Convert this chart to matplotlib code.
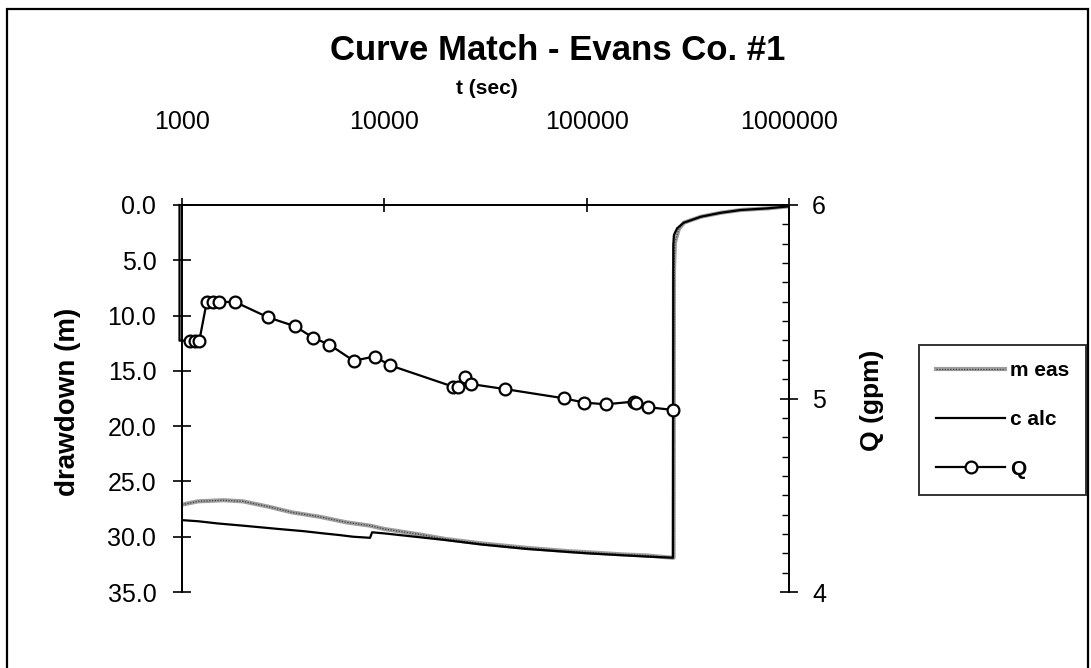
"""
Curve Match - Evans Co. #1
drawdown (meas / calc) e vazão Q contra t (log), estilo planilha antiga.
"""

import matplotlib
matplotlib.use("Agg")
import matplotlib.pyplot as plt
from matplotlib import font_manager
from matplotlib.lines import Line2D
from matplotlib.patches import Rectangle
from matplotlib.ticker import FixedLocator, MultipleLocator, FuncFormatter

# ---- dados ------------------------------------------------------------------
meas_t = [1000, 1200, 1600, 2000, 2700, 3500, 4800, 6500, 8500, 10000, 15000,
          20000, 30000, 50000, 80000, 100000, 150000, 200000, 265000, 269000,
          270000, 273000, 285000, 302000, 367000, 461000, 579000, 788000, 1000000]
meas_d = [27.1, 26.8, 26.7, 26.8, 27.3, 27.8, 28.2, 28.7, 29.0, 29.3, 29.8,
          30.2, 30.6, 31.0, 31.3, 31.4, 31.6, 31.7, 31.9, 31.9,
          6.0, 3.4, 2.2, 1.6, 1.06, 0.7, 0.45, 0.3, 0.12]

calc_t = [1000, 1200, 1500, 2000, 3000, 4000, 5000, 6000, 7000, 8500, 8700,
          10000, 20000, 30000, 50000, 100000, 200000, 267000, 268000, 270000,
          280000, 302000, 367000, 461000, 579000, 788000, 1000000]
calc_d = [28.5, 28.6, 28.8, 29.0, 29.3, 29.5, 29.7, 29.85, 30.0, 30.1, 29.6,
          29.7, 30.3, 30.7, 31.1, 31.5, 31.8, 31.9, 3.6, 2.7,
          2.1, 1.6, 1.06, 0.7, 0.45, 0.3, 0.12]

# os dois primeiros pontos de Q não têm marcador (trecho vertical inicial)
q_t = [972, 972, 1095, 1160, 1218, 1325, 1429, 1530, 1829, 2654, 3625, 4465,
       5357, 7050, 8945, 10700, 21880, 23070, 25180, 26680, 39300, 77270,
       97100, 124300, 171500, 174800, 202000, 265700]
q_gpm = [6.0, 5.299, 5.299, 5.299, 5.299, 5.499, 5.499, 5.499, 5.499, 5.42,
         5.373, 5.313, 5.278, 5.195, 5.217, 5.171, 5.061, 5.061, 5.113, 5.075,
         5.049, 5.001, 4.979, 4.970, 4.984, 4.975, 4.955, 4.941]

x_ticks = [1000, 10000, 100000, 1000000]
d_ticks = [0, 5, 10, 15, 20, 25, 30, 35]
q_ticks = [4, 5, 6]

# ---- fonte ------------------------------------------------------------------
_have = {f.name for f in font_manager.fontManager.ttflist}
NARROW = "Liberation Sans Narrow" if "Liberation Sans Narrow" in _have else "Liberation Sans"
plt.rcParams["font.family"] = [NARROW, "DejaVu Sans"]
BOLD = ["Liberation Sans", "DejaVu Sans"]

W, H = 1091, 668
fig = plt.figure(figsize=(W / 100, H / 100), dpi=100)

# área do gráfico em pixels (x0, x1, y_topo, y_base)
X0, X1, YT, YB = 182, 789, 205, 592
ax = fig.add_axes([X0 / W, 1 - YB / H, (X1 - X0) / W, (YB - YT) / H])
ax2 = ax.twinx()

# moldura externa
fig.patches.append(Rectangle((7 / W, -0.01), 1081 / W, 1 - 9 / H + 0.01,
                             transform=fig.transFigure, fill=False,
                             edgecolor="black", linewidth=1.6))

# curvas de rebaixamento
ax.plot(meas_t, meas_d, color="0.62", linewidth=3.0, solid_capstyle="butt", zorder=3)
ax.plot(meas_t, meas_d, color="0.25", linewidth=0.9, linestyle=(0, (1, 1.2)), zorder=3)
ax.plot(calc_t, calc_d, color="black", linewidth=1.6, zorder=4)

# vazão
ax2.plot(q_t, q_gpm, color="black", linewidth=1.6, marker="o", markersize=8.5,
         markerfacecolor="white", markeredgecolor="black", markeredgewidth=1.6,
         markevery=list(range(2, len(q_t))), clip_on=False, zorder=5)

# eixo x (log, no topo)
ax.set_xscale("log")
ax.set_xlim(1000, 1000000)
ax.xaxis.tick_top()
ax.xaxis.set_major_locator(FixedLocator(x_ticks))
ax.xaxis.set_minor_locator(FixedLocator([]))
ax.xaxis.set_major_formatter(FuncFormatter(lambda v, p: f"{int(round(v))}"))
ax.tick_params(axis="x", which="major", direction="inout", length=10, width=1.2,
               pad=46, labelsize=18)

# eixo esquerdo
ax.set_ylim(35, 0)
ax.yaxis.set_major_locator(FixedLocator(d_ticks))
ax.yaxis.set_major_formatter(FuncFormatter(lambda v, p: f"{v:.1f}"))
ax.tick_params(axis="y", which="major", direction="inout", length=13, width=1.2,
               pad=12, labelsize=18)

# eixo direito
ax2.set_ylim(4, 6)
ax2.yaxis.set_major_locator(FixedLocator(q_ticks))
ax2.yaxis.set_minor_locator(MultipleLocator(0.1))
ax2.tick_params(axis="y", which="major", direction="inout", length=13, width=1.2,
                pad=10, labelsize=18)
ax2.tick_params(axis="y", which="minor", direction="in", length=5, width=1.0)

for a in (ax, ax2):
    a.spines["bottom"].set_visible(False)
    for s in ("top", "left", "right"):
        a.spines[s].set_linewidth(1.3)
ax.set_facecolor("none")

# textos
fig.text(558 / W, 1 - 50 / H, "Curve Match - Evans Co. #1",
         ha="center", va="center", fontsize=25, fontweight="bold", family=BOLD)
fig.text(487 / W, 1 - 88 / H, "t (sec)", ha="center", va="center",
         fontsize=15, fontweight="bold", family=BOLD)
fig.text(68 / W, 1 - 402 / H, "drawdown (m)", ha="center", va="center",
         rotation=90, fontsize=20, fontweight="bold", family=BOLD)
fig.text(872 / W, 1 - 400 / H, "Q (gpm)", ha="center", va="center",
         rotation=90, fontsize=19, fontweight="bold", family=BOLD)

# legenda
h_meas = (Line2D([], [], color="0.62", linewidth=3.0),
          Line2D([], [], color="0.25", linewidth=0.9, linestyle=(0, (1, 1.2))))
h_calc = Line2D([], [], color="black", linewidth=1.6)
h_q = Line2D([], [], color="black", linewidth=1.6, marker="o", markersize=8.5,
             markerfacecolor="white", markeredgewidth=1.6)
leg = fig.legend([h_meas, h_calc, h_q], ["m eas", "c alc", "Q"],
                 loc="center right", bbox_to_anchor=(1086 / W, 1 - 420 / H),
                 frameon=True, fancybox=False, edgecolor="black",
                 handlelength=3.3, handletextpad=0.25, labelspacing=1.45,
                 borderpad=0.8, borderaxespad=0, fontsize=15)
leg.get_frame().set_linewidth(1.4)
for txt in leg.get_texts():
    txt.set_fontweight("bold")

fig.savefig("out.png", dpi=100)
